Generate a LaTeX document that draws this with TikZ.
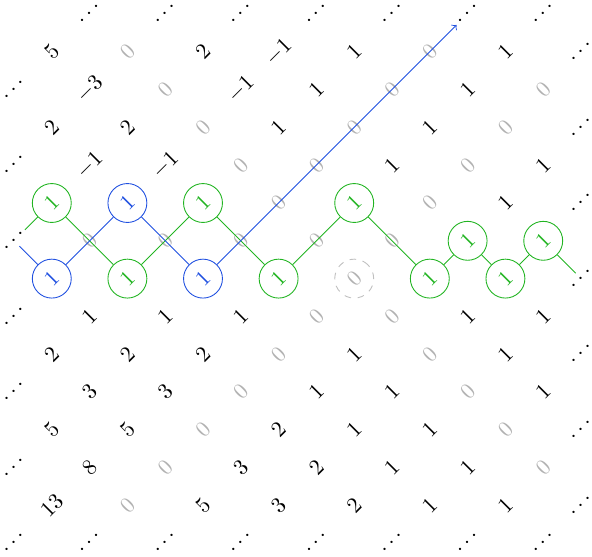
\documentclass[tikz,border=0pt]{standalone}
\definecolor{fgreen}{RGB}{34,180,34}
\definecolor{fblue}{RGB}{32,80,224}
\begin{document}
\begin{tikzpicture}[x=0.6cm, y=0.6cm,
  num/.style={rotate=45},
  zero/.style={rotate=45, text=gray!60},
  dts/.style={rotate=45, inner sep=1pt},
  gcirc/.style={circle, draw=fgreen, text=fgreen, rotate=45},
  bcirc/.style={circle, draw=fblue, text=fblue, rotate=45},
  dcirc/.style={circle, draw=gray!50, dashed, text=gray!60, rotate=45}]
\useasboundingbox (-0.37,0.37) rectangle (15.29,-14.34);
% dots round the border
\foreach \col in {2,4,...,14} \node[dts] (n0-\col) at (\col,0) {$\cdots$};
\foreach \col in {0,2,...,14} \node[dts] (n14-\col) at (\col,-14) {$\cdots$};
\foreach \row in {2,4,...,12} \node[dts] (n\row-0) at (0,-\row) {$\cdots$};
\foreach \row in {1,3,...,13} \node[dts] (n\row-15) at (15,-\row) {$\cdots$};
% entries
\foreach \row/\col/\val in {1/1/5, 1/5/2, 1/7/-1, 1/9/1, 1/13/1,
  2/2/-3, 2/6/-1, 2/8/1, 2/12/1, 3/1/2, 3/3/2, 3/7/1, 3/11/1,
  4/2/-1, 4/4/-1, 4/10/1, 4/14/1, 5/13/1,
  8/2/1, 8/4/1, 8/6/1, 8/12/1, 8/14/1, 9/1/2, 9/3/2, 9/5/2, 9/9/1, 9/13/1,
  10/2/3, 10/4/3, 10/8/1, 10/10/1, 10/14/1, 11/1/5, 11/3/5, 11/7/2, 11/9/1, 11/11/1,
  12/2/8, 12/6/3, 12/8/2, 12/10/1, 12/12/1, 13/1/13, 13/5/5, 13/7/3, 13/9/2, 13/11/1, 13/13/1}
  \node[num] (n\row-\col) at (\col,-\row) {$\val$};
\foreach \row/\col in {1/3, 1/11, 2/4, 2/10, 2/14, 3/5, 3/9, 3/13, 4/6, 4/8, 4/12,
  5/7, 5/11, 6/2, 6/4, 6/6, 6/8, 6/10, 8/8, 8/10, 9/7, 9/11, 10/6, 10/12,
  11/5, 11/13, 12/4, 12/14, 13/3}
  \node[zero] (n\row-\col) at (\col,-\row) {$0$};
% the two paths
\foreach \row/\col in {5/1, 5/5, 5/9, 6/12, 6/14, 7/3, 7/7, 7/11, 7/13}
  \node[gcirc] (n\row-\col) at (\col,-\row) {$1$};
\foreach \row/\col in {5/3, 7/1, 7/5}
  \node[bcirc] (n\row-\col) at (\col,-\row) {$1$};
\node[dcirc] (n7-9) at (9,-7) {$0$};
\draw[fgreen] (n6-0) -- (n5-1) -- (n7-3) -- (n5-5) -- (n7-7) -- (n5-9) -- (n7-11)
  -- (n6-12) -- (n7-13) -- (n6-14) -- (n7-15);
\draw[fblue] (n6-0) -- (n7-1) -- (n5-3) -- (n7-5);
\draw[fblue, ->] (n7-5) -- (n0-12);
\end{tikzpicture}
\end{document}
